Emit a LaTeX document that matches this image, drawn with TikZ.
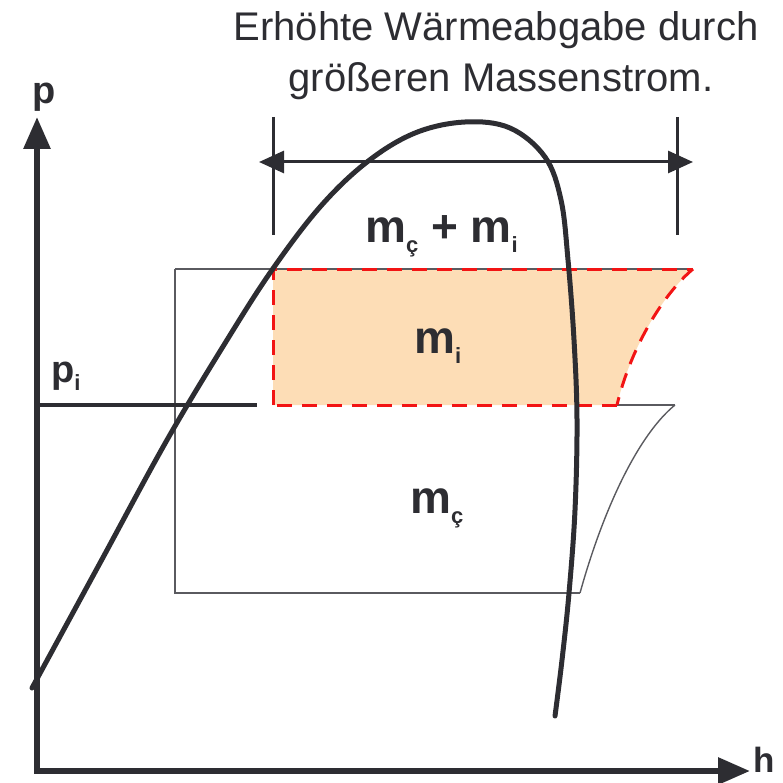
\documentclass[tikz,border=0pt]{standalone}
\usepackage{fontspec}
\setmainfont{Liberation Sans}
\usetikzlibrary{arrows.meta}
\definecolor{ink}{RGB}{45,45,50}
\definecolor{peach}{RGB}{253,221,182}
\definecolor{dashred}{RGB}{242,20,20}
\definecolor{thingray}{RGB}{90,90,95}
\begin{document}
\begin{tikzpicture}[x=1pt,y=-1pt,
  thinline/.style={draw=thingray,line width=1.4pt},
  dome/.style={draw=ink,line width=5pt,line cap=round},
  axisline/.style={draw=ink,line width=6pt,line join=miter},
  dimline/.style={draw=ink,line width=3pt},
  reddash/.style={draw=dashred,line width=3pt,dash pattern=on 15pt off 10pt},
  title/.style={font=\fontsize{40}{48}\selectfont,text=ink,anchor=base,inner sep=0pt},
  mlabel/.style={font=\bfseries\fontsize{46}{50}\selectfont,text=ink,anchor=base west,inner sep=0pt},
  axlabel/.style={font=\bfseries\fontsize{38}{44}\selectfont,text=ink,anchor=base,inner sep=0pt}]
\useasboundingbox (0,0) rectangle (782,783);

% coordinates
\coordinate (O) at (37,771);
\coordinate (Ptop) at (37,117);
\coordinate (Hend) at (750,771);
\coordinate (piL) at (37,405);
\coordinate (piR) at (257,405);
\coordinate (rTL) at (175,269);
\coordinate (rTR) at (693,269);
\coordinate (rBL) at (175,593);
\coordinate (rBR) at (580,593);
\coordinate (sTL) at (273,269);
\coordinate (sBL) at (273,405);
\coordinate (sBR) at (617,405);
\coordinate (lTR) at (675,405);
\coordinate (tkL1) at (273,117);
\coordinate (tkL2) at (273,235);
\coordinate (tkR1) at (677,117);
\coordinate (tkR2) at (677,235);
\coordinate (dimL) at (259,162);
\coordinate (dimR) at (693,162);

% shaded area
\fill[peach] (sTL) -- (rTR) .. controls (662,295) and (630,350) .. (sBR) -- (sBL) -- cycle;

% thin outline lines
\draw[thinline] (rTL) -- (rTR);
\draw[thinline] (rTL) -- (rBL) -- (rBR);
\draw[thinline] (sBR) -- (lTR);
\draw[thinline] (lTR) .. controls (638,435) and (603,510) .. (rBR);

% red dashed border
\draw[reddash] (sBL) -- (sTL) -- (rTR);
\draw[reddash] (rTR) .. controls (662,295) and (630,350) .. (sBR);
\draw[reddash] (sBR) -- (sBL);

% p_i line
\draw[draw=ink,line width=4.5pt] (piL) -- (piR);

% dimension
\draw[dimline] (tkL1) -- (tkL2);
\draw[dimline] (tkR1) -- (tkR2);
\draw[dimline,{Triangle[length=25pt,width=22pt]}-{Triangle[length=25pt,width=22pt]}] (dimL) -- (dimR);

% dome
\draw[dome] plot[smooth,tension=0.6] coordinates {(32,688) (100,563) (167,440) (227,340) (272,270) (320,207) (367,162) (415,133) (465,122) (510,128) (545,157) (561,200) (568,260) (574,340) (577,420) (575,510) (569,593) (562,660) (555,716)};

% axes
\draw[axisline,{Triangle[length=32pt,width=26pt]}-{Triangle[length=32pt,width=26pt]}] (Ptop) -- (O) -- (Hend);

% labels
\node[title] (t1) at (496,41) {Erhöhte Wärmeabgabe durch};
\node[title] (t2) at (501,92) {größeren Massenstrom.};
\node[axlabel] (lp) at (44,104) {p};
\node[axlabel,font=\bfseries\fontsize{35}{40}\selectfont] (lh) at (764,772) {h};
\node[axlabel,anchor=base west] (lpi) at (51,382) {p\raisebox{-8pt}{\fontsize{22}{22}\selectfont i}};
\node[mlabel] (mci) at (365,243) {m\raisebox{-10pt}{\fontsize{22}{22}\selectfont ç} + m\raisebox{-10pt}{\fontsize{22}{22}\selectfont i}};
\node[mlabel] (mi) at (414,353) {m\raisebox{-10pt}{\fontsize{22}{22}\selectfont i}};
\node[mlabel] (mc) at (410,513) {m\raisebox{-10pt}{\fontsize{22}{22}\selectfont ç}};
\end{tikzpicture}
\end{document}
